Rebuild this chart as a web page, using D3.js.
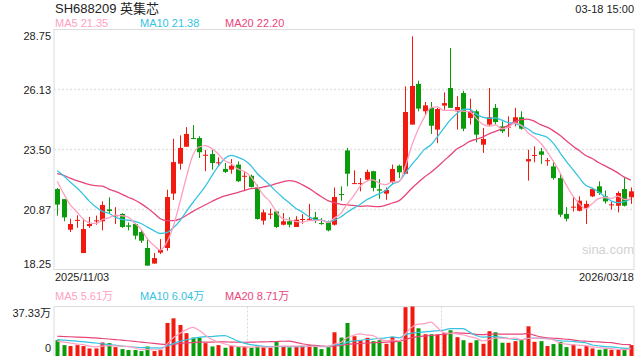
<!DOCTYPE html>
<html><head><meta charset="utf-8">
<script src="https://cdn.jsdelivr.net/npm/d3@7/dist/d3.min.js"></script>
<style>
body{margin:0;background:#fff;}
svg{display:block;font-family:"Liberation Sans",Arial,"Noto Sans CJK SC",sans-serif;}
</style></head><body>
<svg id="chart" width="640" height="360"></svg>
<script>
// --- data ---
const title = "SH688209 英集芯";
const stamp = "03-18 15:00";
const dateLabels = ["2025/11/03", "2026/03/18"];
const priceTicks = [28.75, 26.125, 23.5, 20.875, 18.25];
const priceTickText = ["28.75", "26.13", "23.50", "20.87", "18.25"];
const volMax = 37.33; // 万
const maLegend = ["MA5 21.35", "MA10 21.38", "MA20 22.20"];
const volLegend = ["MA5 5.61万", "MA10 6.04万", "MA20 8.71万"];
const volGridAfter = [29, 59]; // dashed separators in the volume pane

const openP = [21.77,21.33,19.99,20.39,18.97,20.15,20.36,20.36,20.88,20.58,
  20.68,20.18,20.24,19.89,19.19,18.51,18.99,19.19,21.57,22.88,
  23.62,24.00,24.00,23.23,23.30,22.91,22.65,22.62,22.84,22.33,
  22.35,21.84,20.39,20.65,20.79,20.21,20.36,20.11,20.43,20.44,
  20.53,20.28,20.31,20.21,21.55,23.46,22.02,22.00,22.18,22.55,
  21.76,21.57,22.08,22.79,22.44,24.59,26.37,25.17,25.32,24.37,
  25.42,26.19,25.17,25.97,24.88,25.17,23.71,24.59,25.32,24.51,
  24.47,24.66,24.91,22.98,23.23,23.42,23.00,22.76,22.25,20.68,
  20.97,20.82,20.94,21.45,21.89,21.45,21.07,21.04,21.77,21.41];
const highP = [21.82,21.33,20.47,20.62,20.47,20.55,20.61,21.23,21.41,20.98,
  20.71,20.31,20.28,19.99,19.63,18.97,19.58,21.74,23.97,24.12,
  24.48,24.57,24.08,23.48,23.48,23.16,22.91,23.08,22.98,22.55,
  22.40,21.96,20.87,20.91,20.82,20.72,20.53,20.58,20.68,21.12,
  20.77,20.50,20.39,21.84,21.89,23.57,22.59,22.25,22.62,22.57,
  22.21,21.84,22.84,22.84,26.26,28.45,26.51,25.58,25.58,25.32,
  26.00,27.94,25.83,26.07,25.72,25.24,24.44,26.19,25.49,24.73,
  24.95,25.32,25.17,23.49,23.64,23.57,23.13,23.01,22.44,20.98,
  21.41,21.45,21.26,21.82,22.11,21.71,21.23,21.67,22.25,21.84];
const lowP = [20.61,20.36,19.89,20.07,18.97,20.07,20.21,19.96,20.72,20.24,
  20.07,19.96,19.57,19.41,18.42,18.51,18.93,19.07,21.29,22.62,
  23.62,23.96,23.13,22.55,22.62,22.79,22.47,22.44,22.08,21.71,
  21.84,20.43,20.21,20.46,20.07,20.18,20.09,20.11,20.25,20.39,
  20.28,20.21,19.92,20.17,21.26,21.89,22.00,21.67,22.14,21.67,
  21.35,21.30,21.96,22.25,22.44,24.59,25.17,25.00,24.18,23.78,
  25.24,25.32,24.37,24.30,24.59,23.81,23.35,24.51,24.59,24.22,
  24.05,24.51,24.37,22.14,22.94,22.87,22.79,22.18,20.55,20.36,
  20.79,20.79,20.24,21.42,21.52,21.13,20.87,20.75,21.01,21.12];
const closeP = [21.09,20.53,20.24,20.42,20.02,20.24,20.40,21.07,20.81,20.62,
  20.11,20.12,19.73,19.51,18.42,18.75,19.10,21.42,22.95,23.57,
  24.18,23.96,23.38,23.27,22.91,22.94,22.52,22.79,22.11,22.35,
  21.86,20.46,20.75,20.69,20.11,20.36,20.21,20.43,20.46,20.47,
  20.39,20.25,19.96,21.42,21.52,22.44,22.03,22.03,22.52,21.82,
  21.70,21.73,22.65,22.50,25.14,26.28,25.29,25.43,24.54,25.27,
  25.53,25.32,25.36,24.41,25.17,24.15,23.96,24.91,24.70,24.30,
  24.50,24.91,24.41,23.08,23.26,23.27,23.03,22.25,20.65,20.47,
  21.00,21.26,21.12,21.77,21.60,21.23,21.10,21.60,21.04,21.67];
// volume in 万 shares
const volume = [11.9,8.2,7.5,8.2,7.5,5.7,5.7,10.2,9.7,6.7,
  5.2,4.5,4.5,3.7,7.2,3.7,4.5,24.9,28.4,23.4,
  17.2,13.9,13.9,9.7,7.2,8.2,6.2,7.5,6.7,6.7,
  6.2,7.2,6.7,6.2,10.5,7.0,6.5,6.7,7.7,8.2,
  7.0,5.2,6.7,17.9,13.9,24.9,14.9,11.9,13.7,11.2,
  11.9,9.2,14.4,10.7,36.8,37.33,20.9,16.4,16.4,16.2,
  17.4,19.4,14.2,11.9,10.0,11.9,9.2,18.7,17.9,10.0,
  10.0,11.2,12.4,22.4,10.7,11.2,7.5,9.0,10.7,6.7,
  8.5,5.5,7.7,5.7,4.7,5.2,4.7,4.7,4.7,8.2];

// moving-average values before the window is full
const ma5Head = [22.11, 21.57, 21.09, 20.79];
const ma10Head = [22.57, 22.35, 22.08, 21.84, 21.55, 21.23, 20.98, 20.79, 20.71];
const ma20Head = [22.44, 22.37, 22.25, 22.14, 22.05, 21.96, 21.92, 21.90, 21.77, 21.67,
  21.55, 21.41, 21.29, 21.13, 20.94, 20.71, 20.47, 20.39, 20.39];
const vma5Head = [11.2, 10.5, 9.8, 9.0];
const vma10Head = [12.4, 12.0, 11.6, 11.2, 10.8, 10.3, 9.8, 9.2, 8.6];
const vma20Head = [14.9, 14.7, 14.5, 14.3, 14.1, 13.9, 13.6, 13.2, 12.8, 12.4,
  12.0, 11.5, 11.0, 10.5, 10.0, 9.5, 9.0, 8.7, 8.6];

const RED = "#f2190f", GREEN = "#0a9b0a";
const C5 = "#ff9fbf", C10 = "#35c3e0", C20 = "#e8457a";

function movingAvg(arr, n, head) {
  return arr.map((v, i) => i < n - 1 ? head[i] : d3.mean(arr.slice(i - n + 1, i + 1)));
}

const svg = d3.select("#chart");
const L = 54, R = 634;
const P = { top: 29.5, bottom: 269.5 };
const V = { top: 306.5, bottom: 356 };
const n = closeP.length;

const x = d3.scaleBand().domain(d3.range(n)).range([L, R]).paddingInner(0.25).paddingOuter(0.125);
const cx = i => x(i) + x.bandwidth() / 2;
const y = d3.scaleLinear().domain([18.25, 28.75]).range([P.bottom, P.top]);
const yv = d3.scaleLinear().domain([0, volMax]).range([V.bottom, V.top]);

// header
svg.append("text").attr("x", 55).attr("y", 13).attr("font-size", 13).attr("fill", "#222").text(title);
svg.append("text").attr("x", 634).attr("y", 13).attr("font-size", 11).attr("fill", "#222")
  .attr("text-anchor", "end").text(stamp);
const legX = [55, 140, 225], legC = [C5, C10, C20];
svg.selectAll("text.leg").data(maLegend).join("text").attr("class", "leg")
  .attr("x", (d, i) => legX[i]).attr("y", 27).attr("font-size", 11)
  .attr("fill", (d, i) => legC[i]).text(d => d);

// price pane grid + frame
svg.selectAll("line.pg").data(priceTicks.slice(1, -1)).join("line").attr("class", "pg")
  .attr("x1", L).attr("x2", R).attr("y1", d => y(d)).attr("y2", d => y(d))
  .attr("stroke", "#e2e2e2").attr("stroke-width", 1.5).attr("stroke-dasharray", "2,2");
svg.append("rect").attr("x", L).attr("y", P.top).attr("width", R - L).attr("height", P.bottom - P.top)
  .attr("fill", "none").attr("stroke", "#dcdcdc");
svg.selectAll("text.pt").data(priceTicks).join("text").attr("class", "pt")
  .attr("x", 51).attr("y", (d, i) => i === 0 ? y(d) + 10 : i === priceTicks.length - 1 ? y(d) - 2 : y(d) + 4)
  .attr("text-anchor", "end").attr("font-size", 11).attr("fill", "#222")
  .text((d, i) => priceTickText[i]);

svg.append("text").attr("x", 582).attr("y", 254).attr("font-size", 13).attr("fill", "#d2d2d2").text("sina.com");

// candles
const up = i => closeP[i] >= openP[i];
const cg = svg.append("g");
cg.selectAll("line").data(d3.range(n)).join("line")
  .attr("x1", i => Math.round(cx(i)) + 0.5).attr("x2", i => Math.round(cx(i)) + 0.5)
  .attr("y1", i => y(highP[i])).attr("y2", i => y(lowP[i]))
  .attr("stroke", i => up(i) ? RED : GREEN);
cg.selectAll("rect").data(d3.range(n)).join("rect")
  .attr("x", i => Math.round(cx(i)) + 0.5 - 2.5).attr("width", 5)
  .attr("y", i => y(Math.max(openP[i], closeP[i])))
  .attr("height", i => Math.max(1, Math.abs(y(openP[i]) - y(closeP[i]))))
  .attr("fill", i => up(i) ? RED : GREEN);

// MA lines
const line = d3.line().x((d, i) => cx(i)).y(d => y(d)).curve(d3.curveMonotoneX);
[[movingAvg(closeP, 20, ma20Head), C20], [movingAvg(closeP, 10, ma10Head), C10], [movingAvg(closeP, 5, ma5Head), C5]]
  .forEach(([s, c]) => svg.append("path").attr("d", line(s)).attr("fill", "none")
    .attr("stroke", c).attr("stroke-width", 1.3));

// dates
svg.append("text").attr("x", 55).attr("y", 281).attr("font-size", 11).attr("fill", "#222").text(dateLabels[0]);
svg.append("text").attr("x", 634).attr("y", 281).attr("font-size", 11).attr("fill", "#222")
  .attr("text-anchor", "end").text(dateLabels[1]);

// volume pane
svg.selectAll("text.vleg").data(volLegend).join("text").attr("class", "vleg")
  .attr("x", (d, i) => legX[i]).attr("y", 300).attr("font-size", 11)
  .attr("fill", (d, i) => legC[i]).text(d => d);
svg.append("line").attr("x1", L).attr("x2", R).attr("y1", V.top).attr("y2", V.top).attr("stroke", "#dcdcdc");
svg.append("line").attr("x1", L).attr("x2", L).attr("y1", V.top).attr("y2", V.bottom).attr("stroke", "#dcdcdc");
svg.append("line").attr("x1", R).attr("x2", R).attr("y1", V.top).attr("y2", V.bottom).attr("stroke", "#dcdcdc");
svg.selectAll("line.vg").data(volGridAfter).join("line").attr("class", "vg")
  .attr("x1", d => Math.round(x(d + 1) - x.step() * 0.125) + 0.5)
  .attr("x2", d => Math.round(x(d + 1) - x.step() * 0.125) + 0.5)
  .attr("y1", V.top).attr("y2", V.bottom)
  .attr("stroke", "#d6d6d6").attr("stroke-dasharray", "2,2");
svg.append("text").attr("x", 51).attr("y", 317).attr("text-anchor", "end").attr("font-size", 11).attr("fill", "#222").text(volMax + "万");
svg.append("text").attr("x", 51).attr("y", 352).attr("text-anchor", "end").attr("font-size", 11).attr("fill", "#222").text("0");

svg.append("g").selectAll("rect").data(d3.range(n)).join("rect")
  .attr("x", i => Math.round(cx(i)) + 0.5 - 2).attr("width", 4)
  .attr("y", i => yv(volume[i])).attr("height", i => yv(0) - yv(volume[i]))
  .attr("fill", i => up(i) ? RED : GREEN);

const vline = d3.line().x((d, i) => cx(i)).y(d => yv(d)).curve(d3.curveMonotoneX);
[[movingAvg(volume, 20, vma20Head), C20], [movingAvg(volume, 10, vma10Head), C10], [movingAvg(volume, 5, vma5Head), C5]]
  .forEach(([s, c]) => svg.append("path").attr("d", vline(s)).attr("fill", "none")
    .attr("stroke", c).attr("stroke-width", 1.2));
</script>
</body></html>
